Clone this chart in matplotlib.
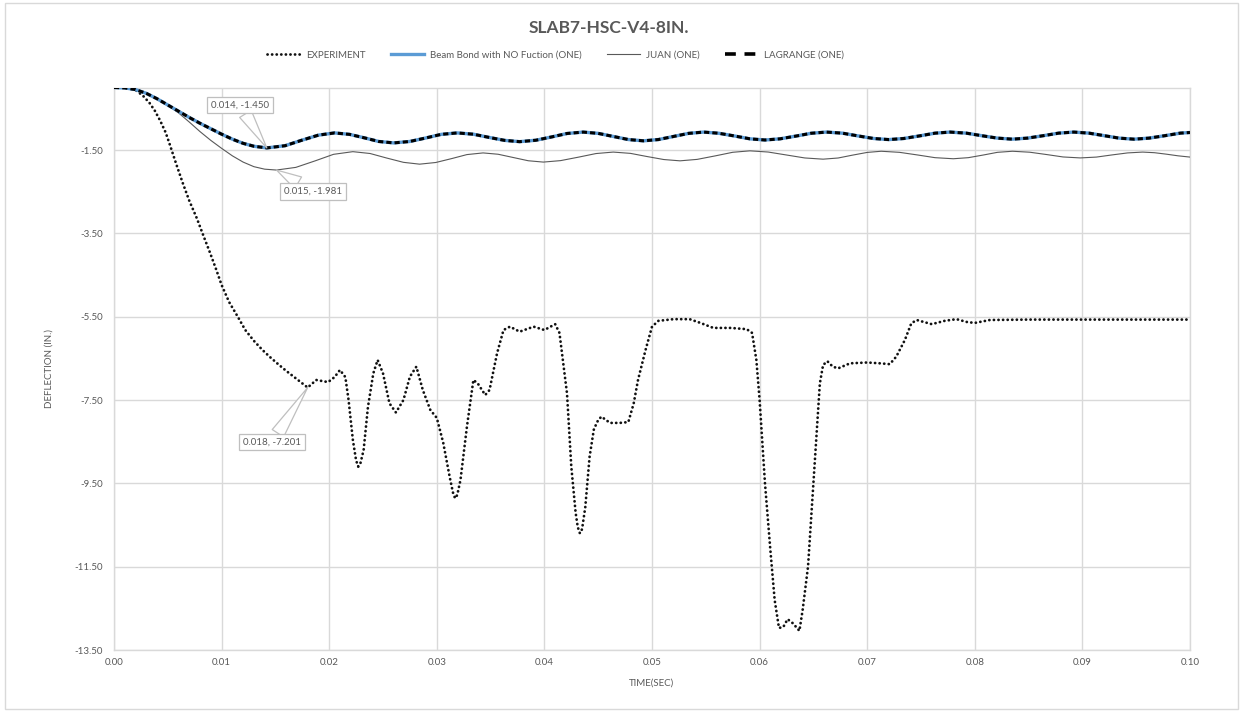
import matplotlib
matplotlib.use("Agg")
import matplotlib.pyplot as plt
from matplotlib.ticker import MultipleLocator, FormatStrFormatter
from matplotlib.patches import Rectangle
from matplotlib.lines import Line2D

plt.rcParams['font.family'] = ['Lato', 'DejaVu Sans']

# ---------------- data ----------------
exp_t = [0.0, 0.001, 0.0015, 0.002, 0.0027, 0.0033, 0.0038, 0.0043, 0.0048, 0.0052,
         0.0058, 0.0064, 0.0070, 0.0077, 0.0083, 0.0089, 0.0095, 0.0100, 0.0107, 0.0115,
         0.0122, 0.0130, 0.0138, 0.0145, 0.0153, 0.0160, 0.0170, 0.0180, 0.0188, 0.0199,
         0.0205, 0.0210, 0.0215, 0.0218, 0.0222, 0.0225, 0.0227, 0.0229, 0.0232, 0.0236,
         0.0241, 0.0245, 0.0250, 0.0256, 0.0262, 0.0269, 0.0275, 0.0281, 0.0287, 0.0294,
         0.0300, 0.0306, 0.0312, 0.0315, 0.0317, 0.0319, 0.0322, 0.0328, 0.0334, 0.0338,
         0.0345, 0.0349, 0.0356, 0.0362, 0.0368, 0.0377, 0.0390, 0.0400, 0.0410, 0.0414,
         0.0421, 0.0425, 0.0429, 0.0431, 0.0433, 0.0435, 0.0438, 0.0442, 0.0446, 0.0450,
         0.0453, 0.0461, 0.0470, 0.0478, 0.0483, 0.0487, 0.0494, 0.0500, 0.0506, 0.0520,
         0.0535, 0.0545, 0.0557, 0.0573, 0.0588, 0.0593, 0.0597, 0.0600, 0.0605, 0.0610,
         0.0614, 0.0618, 0.0622, 0.0626, 0.0631, 0.0637, 0.0640, 0.0645, 0.0649, 0.0653,
         0.0656, 0.0659, 0.0663, 0.0668, 0.0673, 0.0684, 0.0700, 0.0712, 0.0721, 0.0727,
         0.0735, 0.0741, 0.0746, 0.0760, 0.0772, 0.0783, 0.0793, 0.0800, 0.0814, 0.0850,
         0.0900, 0.0950, 0.1000]
exp_d = [0.0, 0.0, -0.02, -0.06, -0.20, -0.37, -0.56, -0.80, -1.08, -1.38,
         -1.85, -2.30, -2.72, -3.14, -3.55, -3.95, -4.37, -4.74, -5.15, -5.50,
         -5.82, -6.08, -6.30, -6.47, -6.65, -6.80, -7.00, -7.201, -7.02, -7.07,
         -6.95, -6.78, -6.95, -7.50, -8.46, -8.95, -9.10, -9.02, -8.70, -7.67,
         -6.86, -6.54, -6.86, -7.58, -7.80, -7.50, -6.94, -6.70, -7.26, -7.74,
         -7.93, -8.53, -9.35, -9.72, -9.86, -9.78, -9.42, -8.14, -7.02, -7.10,
         -7.38, -7.26, -6.38, -5.82, -5.74, -5.86, -5.74, -5.82, -5.68, -5.89,
         -7.34, -9.10, -10.20, -10.55, -10.70, -10.60, -10.07, -8.86, -8.20, -7.98,
         -7.90, -8.05, -8.05, -8.03, -7.58, -7.02, -6.30, -5.74, -5.60, -5.56,
         -5.56, -5.65, -5.77, -5.77, -5.80, -5.89, -6.54, -7.50, -9.50, -11.10,
         -12.30, -12.97, -12.95, -12.76, -12.86, -13.04, -12.54, -11.50, -9.90, -8.30,
         -7.10, -6.66, -6.57, -6.70, -6.74, -6.62, -6.60, -6.62, -6.64, -6.46,
         -6.06, -5.66, -5.58, -5.68, -5.60, -5.56, -5.63, -5.65, -5.58, -5.57,
         -5.57, -5.57, -5.57]

beam_t = [0.0, 0.001, 0.002, 0.003, 0.004, 0.005, 0.006, 0.007, 0.008, 0.009,
          0.010, 0.011, 0.012, 0.013, 0.0142, 0.0159, 0.0174, 0.0190, 0.0205, 0.0219,
          0.0233, 0.0246, 0.0260, 0.0275, 0.0290, 0.0304, 0.0319, 0.0334, 0.0348, 0.0363,
          0.0377, 0.0392, 0.0407, 0.0421, 0.0436, 0.0450, 0.0464, 0.0478, 0.0492, 0.0506,
          0.0520, 0.0534, 0.0548, 0.0562, 0.0577, 0.0591, 0.0605, 0.0619, 0.0634, 0.0648,
          0.0662, 0.0677, 0.0691, 0.0706, 0.0720, 0.0734, 0.0749, 0.0763, 0.0777, 0.0792,
          0.0806, 0.0821, 0.0835, 0.0849, 0.0864, 0.0878, 0.0892, 0.0906, 0.0920, 0.0934,
          0.0948, 0.0962, 0.0977, 0.0991, 0.1000]
beam_d = [0.0, -0.01, -0.05, -0.14, -0.27, -0.42, -0.57, -0.72, -0.86, -0.99,
          -1.12, -1.24, -1.34, -1.41, -1.450, -1.397, -1.27, -1.143, -1.09, -1.125,
          -1.21, -1.295, -1.33, -1.295, -1.21, -1.125, -1.09, -1.121, -1.195, -1.269,
          -1.30, -1.266, -1.185, -1.104, -1.07, -1.101, -1.175, -1.249, -1.28, -1.249,
          -1.175, -1.101, -1.07, -1.098, -1.165, -1.232, -1.26, -1.232, -1.165, -1.098,
          -1.07, -1.096, -1.16, -1.224, -1.25, -1.224, -1.16, -1.096, -1.07, -1.095,
          -1.155, -1.215, -1.24, -1.215, -1.155, -1.095, -1.07, -1.095, -1.155, -1.215,
          -1.24, -1.215, -1.155, -1.095, -1.08]

lagrange_t = list(beam_t)
lagrange_d = list(beam_d)

juan_t = [0.0, 0.001, 0.002, 0.003, 0.004, 0.005, 0.006, 0.007, 0.008, 0.009,
          0.010, 0.011, 0.012, 0.013, 0.014, 0.0151, 0.0169, 0.0187, 0.0204, 0.0222,
          0.0238, 0.0253, 0.0269, 0.0284, 0.0299, 0.0314, 0.0328, 0.0343, 0.0357, 0.0371,
          0.0385, 0.0399, 0.0415, 0.0432, 0.0448, 0.0464, 0.0480, 0.0495, 0.0511, 0.0526,
          0.0542, 0.0559, 0.0575, 0.0591, 0.0608, 0.0625, 0.0642, 0.0659, 0.0673, 0.0686,
          0.0700, 0.0713, 0.0730, 0.0747, 0.0763, 0.0780, 0.0794, 0.0808, 0.0821, 0.0835,
          0.0851, 0.0867, 0.0882, 0.0898, 0.0913, 0.0927, 0.0942, 0.0956, 0.0967, 0.0978,
          0.0989, 0.1000]
juan_d = [0.0, -0.01, -0.05, -0.14, -0.27, -0.43, -0.61, -0.83, -1.06, -1.27,
          -1.46, -1.64, -1.79, -1.90, -1.96, -1.981, -1.917, -1.76, -1.604, -1.54,
          -1.584, -1.69, -1.796, -1.84, -1.80, -1.705, -1.61, -1.57, -1.602, -1.68,
          -1.758, -1.79, -1.755, -1.67, -1.585, -1.55, -1.581, -1.655, -1.729, -1.76,
          -1.725, -1.64, -1.555, -1.52, -1.549, -1.62, -1.691, -1.72, -1.692, -1.625,
          -1.558, -1.53, -1.556, -1.62, -1.684, -1.71, -1.684, -1.62, -1.556, -1.53,
          -1.553, -1.61, -1.667, -1.69, -1.67, -1.62, -1.57, -1.55, -1.565, -1.60,
          -1.64, -1.67]

labels = ["EXPERIMENT", "Beam Bond with NO Fuction (ONE)", "JUAN (ONE)", "LAGRANGE (ONE)"]
title = "SLAB7-HSC-V4-8IN."
xlabel = "TIME(SEC)"
ylabel = "DEFLECTION (IN.)"
annotations = [("0.014, -1.450", 0.0142, -1.450, 0.0117, -0.42),
               ("0.015, -1.981", 0.0151, -1.981, 0.0185, -2.50),
               ("0.018, -7.201", 0.0180, -7.201, 0.0147, -8.51)]

# ---------------- figure ----------------
W, H = 1243, 713
fig = plt.figure(figsize=(W / 100, H / 100), dpi=100)
ax = fig.add_axes([114 / W, 1 - 650 / H, (1190 - 114) / W, (650 - 87.5) / H])

grid_c = '#D9D9D9'
txt_c = '#595959'

exp_style = dict(color='#111111', lw=2.0, linestyle=(0, (0.05, 1.6)), dash_capstyle='round')
lag_style = dict(color='black', lw=2.2, linestyle=(0, (1.7, 1.0)))

ax.plot(exp_t, exp_d, zorder=3, **exp_style)
ax.plot(beam_t, beam_d, color='#5B9BD5', lw=2.4, zorder=4, solid_joinstyle='round')
ax.plot(juan_t, juan_d, color='#595959', lw=0.8, zorder=3)
ax.plot(lagrange_t, lagrange_d, zorder=5, **lag_style)

ax.set_xlim(0, 0.10)
ax.set_ylim(-13.5, 0)
ax.xaxis.set_major_locator(MultipleLocator(0.01))
ax.set_yticks([-13.5, -11.5, -9.5, -7.5, -5.5, -3.5, -1.5])
ax.xaxis.set_major_formatter(FormatStrFormatter('%.2f'))
ax.yaxis.set_major_formatter(FormatStrFormatter('%.2f'))
ax.grid(True, color=grid_c, lw=1.0, zorder=0)
ax.set_axisbelow(True)
for s in ax.spines.values():
    s.set_color(grid_c)
    s.set_linewidth(1.0)
ax.tick_params(length=0, labelsize=7, labelcolor=txt_c)
ax.tick_params(axis='y', pad=8)
ax.tick_params(axis='x', pad=6)

ax.set_xlabel(xlabel, fontsize=7, color=txt_c, labelpad=8)
ax.set_ylabel(ylabel, fontsize=7, color=txt_c, labelpad=15)

for text, px, py, tx, ty in annotations:
    ax.annotate(text, xy=(px, py), xytext=(tx, ty), ha='center', va='center',
                fontsize=7, color=txt_c, zorder=6,
                bbox=dict(boxstyle='square,pad=0.4', fc='white', ec='#BFBFBF', lw=0.9),
                arrowprops=dict(arrowstyle='wedge,tail_width=1.4,shrink_factor=0.5',
                                fc='white', ec='#BFBFBF', lw=0.9, shrinkA=0, shrinkB=0))

fig.text(0.49, 1 - 28 / H, title, ha='center', va='center', fontsize=12.5,
         fontweight='bold', color=txt_c)

# legend proxies (Excel shows longer dash samples in its legend)
h_exp = Line2D([], [], **exp_style)
h_beam = Line2D([], [], color='#5B9BD5', lw=2.4)
h_juan = Line2D([], [], color='#595959', lw=0.8)
h_lag = Line2D([], [], color='black', lw=2.6, linestyle=(0, (3.0, 2.4)))
fig.legend([h_exp, h_beam, h_juan, h_lag], labels, loc='center',
           bbox_to_anchor=(0.447, 1 - 55 / H), ncol=4, frameon=False, fontsize=7,
           handlelength=3.4, columnspacing=2.6, handletextpad=0.6, labelcolor=txt_c)

fig.patches.append(Rectangle((0.004, 0.006), 0.992, 0.99, transform=fig.transFigure,
                             fill=False, ec=grid_c, lw=1.0))

fig.savefig('out.png', dpi=100)
